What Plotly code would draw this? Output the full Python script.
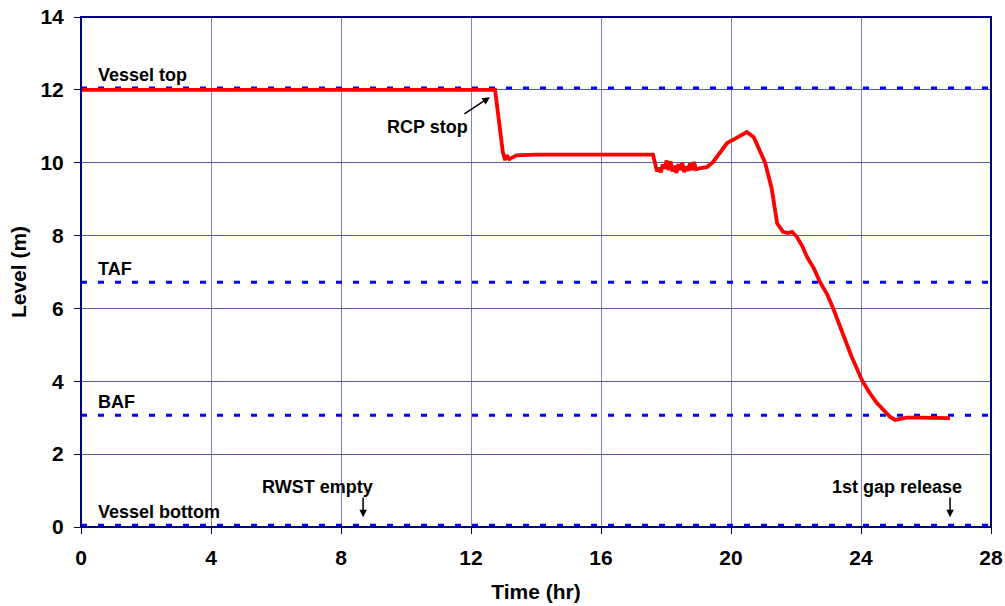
import plotly.graph_objects as go

# reactor vessel water level
time_hr = [0.0, 4.0, 8.0, 12.0, 12.74, 12.83, 12.98, 13.05, 13.1, 13.18, 13.26, 13.4, 14.0, 15.0,
           16.0, 17.0, 17.6, 17.66, 17.72, 17.78, 17.84, 17.9, 17.96, 18.02, 18.08, 18.14, 18.2,
           18.26, 18.32, 18.38, 18.44, 18.5, 18.56, 18.62, 18.68, 18.74, 18.8, 18.86, 18.92,
           19.05, 19.26, 19.45, 19.66, 19.88, 20.1, 20.3, 20.49, 20.7, 21.05, 21.25, 21.42, 21.6,
           21.75, 21.88, 22.03, 22.2, 22.34, 22.55, 22.74, 22.95, 23.14, 23.4, 23.7, 24.03,
           24.25, 24.49, 24.7, 24.9, 25.05, 25.2, 25.4, 25.8, 26.3, 26.74]
level_m = [12.0, 12.0, 12.0, 12.0, 12.0, 11.36, 10.29, 10.07, 10.2, 10.1, 10.13, 10.2, 10.22, 10.22,
           10.22, 10.2, 10.22, 10.0, 9.76, 9.86, 9.74, 9.95, 9.84, 10.06, 9.8, 10.04, 9.76,
           9.92, 9.72, 9.96, 9.8, 10.0, 9.74, 9.9, 9.78, 9.98, 9.8, 10.02, 9.82,
           9.85, 9.88, 10.02, 10.27, 10.54, 10.65, 10.74, 10.84, 10.7, 10.0, 9.3, 8.34, 8.1,
           8.07, 8.1, 7.96, 7.7, 7.41, 7.1, 6.72, 6.4, 6.01, 5.4, 4.7, 4.03,
           3.7, 3.4, 3.2, 3.02, 2.94, 2.97, 3.0, 3.0, 3.0, 2.99]

ref_names = ['Vessel top', 'TAF', 'BAF', 'Vessel bottom']
ref_levels = [12.05, 6.72, 3.07, 0.05]

# event labels: text position, arrow tail, arrow head
events = ['RCP stop', 'RWST empty', '1st gap release']
event_text_xy = [(10.66, 10.98), (7.29, 1.10), (25.11, 1.10)]
event_tail_xy = [(11.75, 11.31), (8.68, 0.85), (26.74, 0.85)]
event_head_xy = [(12.58, 11.80), (8.68, 0.27), (26.74, 0.27)]

x_ticks = [0, 4, 8, 12, 16, 20, 24, 28]
y_ticks = [0, 2, 4, 6, 8, 10, 12, 14]

fig = go.Figure()

for name, lev in zip(ref_names, ref_levels):
    fig.add_trace(go.Scatter(x=[0, 28], y=[lev, lev], mode='lines', name=name, showlegend=False,
                             line=dict(color='#0000ff', width=3, dash='6px,11px')))
    fig.add_annotation(x=0.45, y=lev, text=name, showarrow=False, xanchor='left', yanchor='bottom',
                       yshift=1, font=dict(size=18, color='black', family='Liberation Sans'))

fig.add_trace(go.Scatter(x=time_hr, y=level_m, mode='lines', name='Level', showlegend=False,
                         line=dict(color='#ff0000', width=3.8)))

for label, txy, tail, head in zip(events, event_text_xy, event_tail_xy, event_head_xy):
    fig.add_annotation(x=txy[0], y=txy[1], text=label, showarrow=False,
                       font=dict(size=18, color='black', family='Liberation Sans'))
    fig.add_annotation(x=head[0], y=head[1], ax=tail[0], ay=tail[1], axref='x', ayref='y',
                       text='', showarrow=True, arrowhead=2, arrowsize=1, arrowwidth=1.5,
                       arrowcolor='black')

# plot frame
fig.add_shape(type='rect', xref='paper', yref='paper', x0=0, y0=0, x1=1, y1=1,
              line=dict(color='#000080', width=2), layer='above')

fig.update_layout(
    width=1005, height=606,
    margin=dict(l=81, r=14, t=17, b=79),
    plot_bgcolor='white', paper_bgcolor='white',
    font=dict(family='Liberation Sans', color='black'),
    xaxis=dict(range=[0, 28], tickvals=x_ticks, ticks='outside', ticklen=6, tickcolor='#000080',
               showline=False, automargin=False,
               showgrid=True, gridcolor='#8080c0', gridwidth=1, zeroline=False,
               ticklabelstandoff=6,
               tickfont=dict(size=21, family='Liberation Sans', weight='bold'),
               title=dict(text='<b>Time (hr)</b>', font=dict(size=21), standoff=16)),
    yaxis=dict(range=[0, 14], tickvals=y_ticks, ticks='outside', ticklen=6, tickcolor='#000080',
               showline=False, automargin=False,
               showgrid=True, gridcolor='#5a5aa8', gridwidth=1, zeroline=False,
               ticklabelstandoff=6,
               tickfont=dict(size=21, family='Liberation Sans', weight='bold'),
               title=dict(text='<b>Level (m)</b>', font=dict(size=21), standoff=8)),
)
fig.update_annotations(font_weight='bold')

# drop the default 8px page margin so the figure sits at the window corner
fig.write_html('out.html', config={'displayModeBar': False, 'responsive': False},
               post_script="document.body.style.margin='0';")
